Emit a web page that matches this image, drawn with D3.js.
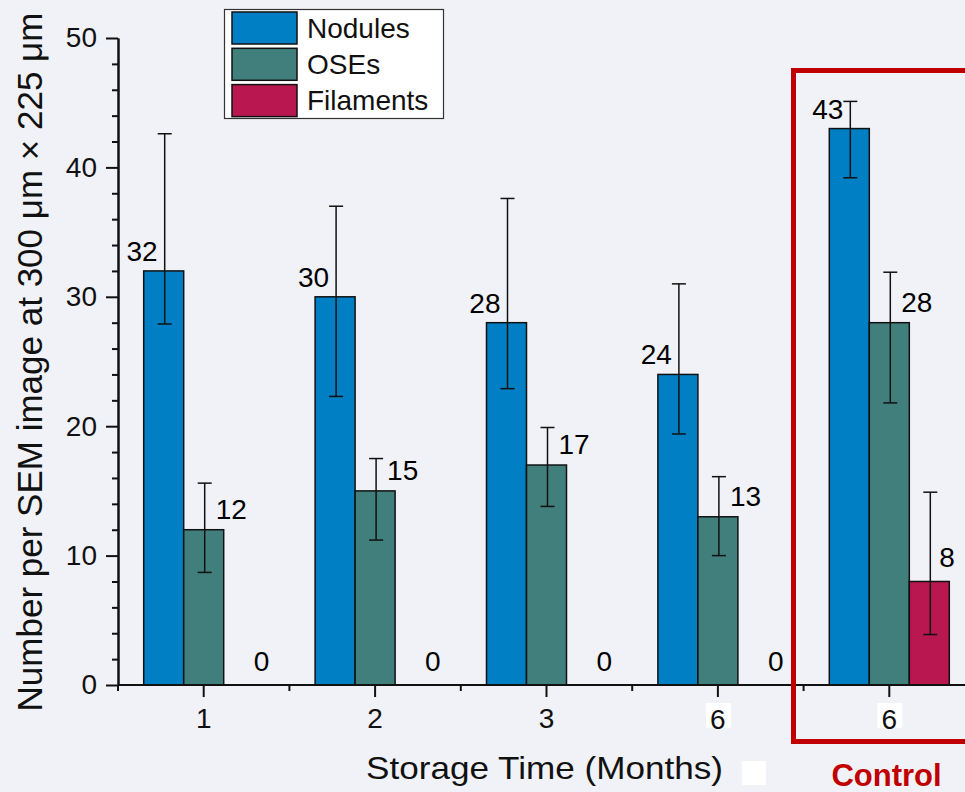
<!DOCTYPE html>
<html>
<head>
<meta charset="utf-8">
<script src="https://cdn.jsdelivr.net/npm/d3@7"></script>
<style>
  html, body { margin: 0; padding: 0; background: #f1f2f7; }
  svg { display: block; font-family: "Liberation Sans", Arial, sans-serif; }
</style>
</head>
<body>
<svg id="chart" width="965" height="792"></svg>
<script>
// ---- data ----
const categories = ["1", "2", "3", "6", "6"];
const seriesNames = ["Nodules", "OSEs", "Filaments"];
const nodules = [32, 30, 28, 24, 43];
const oses = [12, 15, 17, 13, 28];
const filaments = [0, 0, 0, 0, 8];
const nodulesHigh = [42.6, 37.0, 37.6, 31.0, 45.1];
const nodulesLow = [27.9, 22.3, 22.9, 19.4, 39.2];
const osesHigh = [15.6, 17.5, 19.9, 16.1, 31.9];
const osesLow = [8.7, 11.2, 13.8, 10.0, 21.8];
const filamentsHigh = [null, null, null, null, 14.9];
const filamentsLow = [null, null, null, null, 3.9];
const yTicks = [0, 10, 20, 30, 40, 50];
const yMinorTicks = [2, 4, 6, 8, 12, 14, 16, 18, 22, 24, 26, 28, 32, 34, 36, 38, 42, 44, 46, 48];
const xTitle = "Storage Time (Months)";
const yTitle = "Number per SEM image at 300 μm × 225 μm";
const controlLabel = "Control";

const colors = ["#007fc4", "#417f7c", "#b8174f"];
const values = [nodules, oses, filaments];
const highs = [nodulesHigh, osesHigh, filamentsHigh];
const lows = [nodulesLow, osesLow, filamentsLow];

const svg = d3.select("#chart");
const font = "'Liberation Sans', Arial, sans-serif";

// ---- scales ----
const idx = d3.range(categories.length);
const x = d3.scaleBand().domain(idx).range([118, 118 + 5 * 171.4]).padding(0);
const sub = d3.scaleBand().domain(d3.range(seriesNames.length)).range([-60, 60]).padding(0);
const y = d3.scaleLinear().domain([0, 50]).range([685, 38]);
const center = i => x(i) + x.bandwidth() / 2;

// ---- bars ----
const bars = svg.append("g");
values.forEach((vals, s) => {
  bars.selectAll(null).data(idx.filter(i => vals[i] > 0)).enter().append("rect")
    .attr("x", i => center(i) + sub(s))
    .attr("y", i => y(vals[i]))
    .attr("width", sub.bandwidth())
    .attr("height", i => y(0) - y(vals[i]))
    .attr("fill", colors[s])
    .attr("stroke", "#111")
    .attr("stroke-width", 1.5);
});

// ---- error bars ----
const eb = svg.append("g").attr("stroke", "#111").attr("stroke-width", 1.5);
values.forEach((vals, s) => {
  const ids = idx.filter(i => highs[s][i] != null);
  const cx = i => center(i) + sub(s) + sub.bandwidth() / 2 + 1;
  eb.selectAll(null).data(ids).enter().append("line")
    .attr("x1", cx).attr("x2", cx)
    .attr("y1", i => y(highs[s][i])).attr("y2", i => y(lows[s][i]));
  ["h", "l"].forEach(k => {
    eb.selectAll(null).data(ids).enter().append("line")
      .attr("x1", i => cx(i) - 7).attr("x2", i => cx(i) + 7)
      .attr("y1", i => y(k === "h" ? highs[s][i] : lows[s][i]))
      .attr("y2", i => y(k === "h" ? highs[s][i] : lows[s][i]));
  });
});

// ---- value labels ----
const lab = svg.append("g").attr("font-size", 28).attr("fill", "#000");
values.forEach((vals, s) => {
  lab.selectAll(null).data(idx).enter().append("text")
    .attr("x", i => center(i) + sub(s) + sub.bandwidth() / 2 + (s === 0 ? -6 : s === 1 ? 12 : 10))
    .attr("y", i => y(vals[i]) - (s === 0 ? 10 : s === 1 ? 11 : 14))
    .attr("text-anchor", s === 0 ? "end" : "start")
    .text(i => vals[i]);
});

// ---- axes ----
const yAxis = svg.append("g").attr("transform", "translate(118,0)")
  .call(d3.axisLeft(y).tickValues(yTicks).tickSize(12).tickSizeOuter(0).tickPadding(9));
svg.append("g").attr("transform", "translate(118,0)")
  .call(d3.axisLeft(y).tickValues(yMinorTicks).tickSize(6).tickSizeOuter(0).tickFormat(""));

const xAxisG = svg.append("g").attr("transform", "translate(0,685)")
  .call(d3.axisBottom(x).tickSize(12).tickSizeOuter(0).tickPadding(11).tickFormat(i => categories[i]));
// minor ticks at group boundaries
const bounds = d3.range(categories.length + 1).map(i => 118 + i * x.bandwidth());
svg.append("g").selectAll("line").data(bounds).enter().append("line")
  .attr("x1", d => d).attr("x2", d => d).attr("y1", 685).attr("y2", 691)
  .attr("stroke", "#111").attr("stroke-width", 2);

[yAxis, xAxisG].forEach(g => {
  g.selectAll("path.domain").attr("stroke", "#111").attr("stroke-width", 2);
  g.selectAll(".tick line").attr("stroke", "#111").attr("stroke-width", 2);
  g.selectAll("text").attr("font-size", 28).attr("font-family", font).attr("fill", "#111");
});
svg.selectAll("g").filter(function() { return this.getAttribute("fill") === "none"; })
  .selectAll("path.domain").attr("stroke", "#111").attr("stroke-width", 2);
svg.selectAll(".tick line").attr("stroke", "#111").attr("stroke-width", 2);
xAxisG.select("path.domain").attr("d", "M118,0H975");

// white boxes behind the "6" tick labels
xAxisG.selectAll(".tick").filter(i => categories[i] === "6").each(function(i) {
  const t = d3.select(this);
  t.insert("rect", "text").attr("x", -12).attr("y", 18).attr("width", 25).attr("height", 25).attr("fill", "#fff");
  t.select("text").attr("dy", "0.75em").attr("y", 23);
});

// ---- titles ----
svg.append("text")
  .attr("transform", "translate(42,362) rotate(-90)")
  .attr("text-anchor", "middle").attr("font-size", 35).attr("fill", "#111")
  .text(yTitle);
svg.append("text")
  .attr("x", 366).attr("y", 779)
  .attr("font-size", 32).attr("fill", "#111")
  .attr("textLength", 357).attr("lengthAdjust", "spacingAndGlyphs")
  .text(xTitle);
svg.append("rect").attr("x", 742).attr("y", 761).attr("width", 24).attr("height", 24).attr("fill", "#fff");

// ---- control box ----
svg.append("rect")
  .attr("x", 793.5).attr("y", 70.5).attr("width", 200).attr("height", 671)
  .attr("fill", "none").attr("stroke", "#c00000").attr("stroke-width", 5);
svg.append("text")
  .attr("x", 886.5).attr("y", 786).attr("text-anchor", "middle")
  .attr("font-size", 31).attr("font-weight", "bold").attr("fill", "#c00000")
  .text(controlLabel);

// ---- legend ----
const leg = svg.append("g");
leg.append("rect").attr("x", 224.5).attr("y", 9.5).attr("width", 219).attr("height", 109)
  .attr("fill", "#fff").attr("stroke", "#333").attr("stroke-width", 1.2);
seriesNames.forEach((n, s) => {
  leg.append("rect").attr("x", 232).attr("y", 12 + s * 36.3).attr("width", 65).attr("height", 32)
    .attr("fill", colors[s]).attr("stroke", "#111").attr("stroke-width", 1.5);
  leg.append("text").attr("x", 307).attr("y", 37.5 + s * 36.3)
    .attr("font-size", 28).attr("fill", "#111").text(n);
});
</script>
</body>
</html>
